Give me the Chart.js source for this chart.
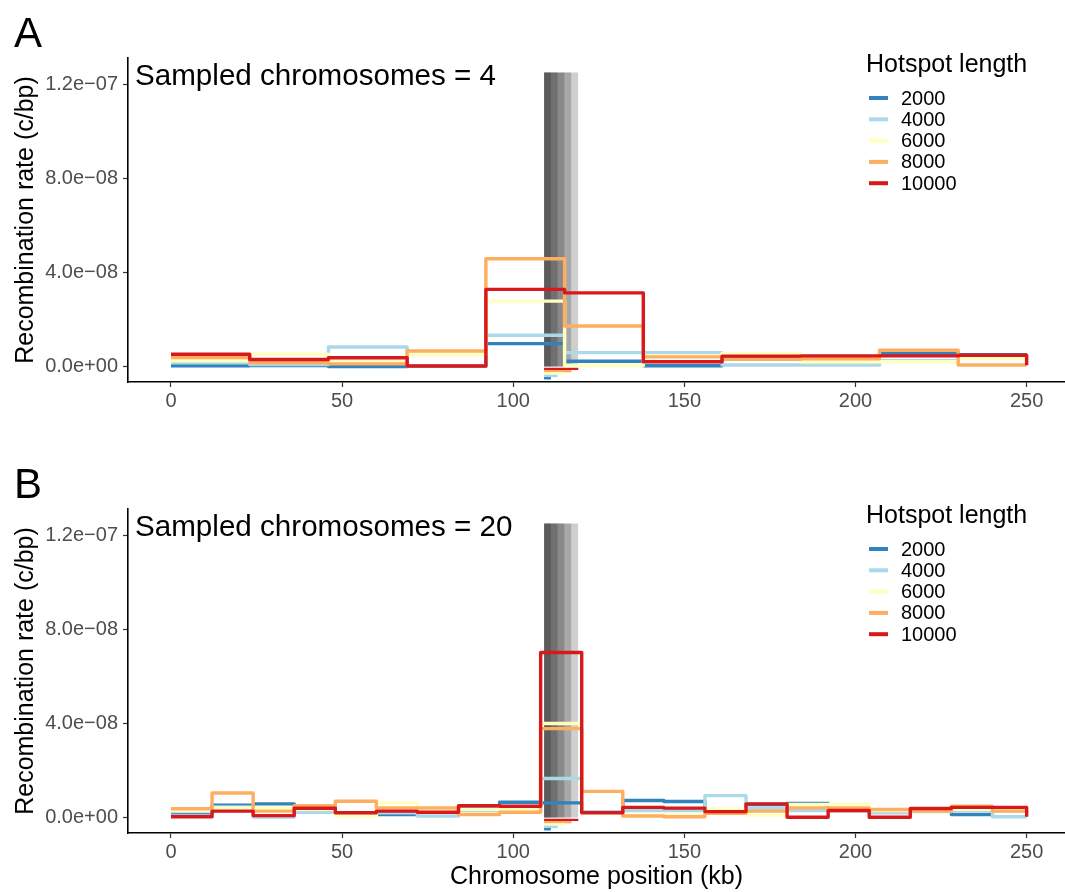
<!DOCTYPE html>
<html>
<head>
<meta charset="utf-8">
<script src="https://cdn.jsdelivr.net/npm/chart.js@4.4.1/dist/chart.umd.min.js"></script>
<style>
  html, body { margin: 0; padding: 0; background: #fff; overflow: hidden; }
  #wrap { position: relative; width: 1065px; height: 892px; }
  canvas { position: absolute; left: 0; }
  #chartA { top: 0; }
  #chartB { top: 451px; }
</style>
</head>
<body>
<div id="wrap">
  <canvas id="chartA" width="1065" height="451"></canvas>
  <canvas id="chartB" width="1065" height="441"></canvas>
</div>
<script>
const hotspotLengths = ['2000', '4000', '6000', '8000', '10000'];
const lineColors = ['#3182bd', '#abd9e9', '#ffffbf', '#fdae61', '#d7191c'];

// rates are in units of 1e-8 c/bp; each list ends with the value at 250 kb
const windowsA = [0, 23, 46, 69, 92, 115, 138, 161, 184, 207, 230, 250];
const rateA2000 = [0.03, 0.04, 0.00, 0.01, 0.97, 0.22, 0.03, 0.38, 0.40, 0.54, 0.50, 0.50];
const rateA4000 = [0.16, 0.08, 0.83, 0.02, 1.33, 0.59, 0.59, 0.06, 0.06, 0.25, 0.45, 0.45];
const rateA6000 = [0.24, 0.52, 0.22, 0.50, 2.78, 0.04, 0.45, 0.55, 0.20, 0.20, 0.35, 0.35];
const rateA8000 = [0.38, 0.16, 0.11, 0.66, 4.58, 1.72, 0.41, 0.31, 0.33, 0.69, 0.06, 0.06];
const rateA10000 = [0.52, 0.30, 0.37, 0.02, 3.28, 3.13, 0.20, 0.44, 0.45, 0.45, 0.48, 0.05];

const windowsB = [0, 12, 24, 36, 48, 60, 72, 84, 96, 108, 120, 132, 144, 156, 168, 180, 192, 204, 216, 228, 240, 250];
const rateB2000 = [0.20, 0.52, 0.58, 0.45, 0.20, 0.13, 0.30, 0.40, 0.65, 0.62, 0.25, 0.72, 0.68, 0.25, 0.55, 0.60, 0.30, 0.25, 0.30, 0.13, 0.30, 0.30];
const rateB4000 = [0.25, 0.45, 0.02, 0.22, 0.15, 0.20, 0.06, 0.31, 0.40, 1.66, 0.25, 0.30, 0.30, 0.93, 0.40, 0.30, 0.35, 0.20, 0.25, 0.30, 0.03, 0.03];
const rateB6000 = [0.30, 0.41, 0.41, 0.35, 0.06, 0.62, 0.35, 0.35, 0.35, 4.00, 0.20, 0.10, 0.10, 0.35, 0.10, 0.55, 0.55, 0.30, 0.30, 0.35, 0.30, 0.30];
const rateB8000 = [0.37, 1.04, 0.27, 0.50, 0.69, 0.41, 0.41, 0.13, 0.22, 3.78, 1.11, 0.06, 0.03, 0.18, 0.27, 0.41, 0.41, 0.34, 0.27, 0.48, 0.27, 0.27];
const rateB10000 = [0.03, 0.27, 0.08, 0.39, 0.20, 0.27, 0.22, 0.50, 0.48, 7.02, 0.20, 0.43, 0.40, 0.25, 0.58, 0.01, 0.30, 0.01, 0.38, 0.43, 0.43, 0.03];

// hotspot: starts at 109 kb, one shaded band per length
const hotspotStart = 109;
const hotspotSizesKb = [2, 4, 6, 8, 10];
const hotspotTop = 12.5;
const rugLevels = [-0.5, -0.4, -0.3, -0.2, -0.1];

const xTicks = [0, 50, 100, 150, 200, 250];
const yTicks = [0, 4, 8, 12];
const yTickLabels = ['0.0e+00', '4.0e\u221208', '8.0e\u221208', '1.2e\u221207'];

const FONT = '"Liberation Sans", Arial, Helvetica, sans-serif';

const panelDecor = {
  id: 'panelDecor',
  afterDraw(chart, args, opts) {
    const ctx = chart.ctx;
    ctx.save();
    ctx.fillStyle = '#000';
    ctx.textAlign = 'left';
    ctx.textBaseline = 'alphabetic';
    ctx.font = '42px ' + FONT;
    ctx.fillText(opts.letter, 14, 47);
    ctx.font = '29.6px ' + FONT;
    ctx.fillText(opts.note, 135, 85);

    // legend
    ctx.font = '25px ' + FONT;
    ctx.fillText('Hotspot length', 866, 72);
    ctx.font = '20px ' + FONT;
    ctx.textBaseline = 'middle';
    hotspotLengths.forEach((lab, i) => {
      const y = 98 + i * 21.3;
      ctx.strokeStyle = lineColors[i];
      ctx.lineWidth = 4;
      ctx.beginPath();
      ctx.moveTo(869, y);
      ctx.lineTo(888, y);
      ctx.stroke();
      ctx.fillStyle = '#000';
      ctx.fillText(lab, 901, y + 1);
    });
    ctx.restore();
  }
};

function toPoints(xs, ys) {
  return xs.map((x, i) => ({ x: x, y: ys[i] }));
}

function buildPanel(canvasId, windows, rates, letter, note, showXTitle, xAxisHeight) {
  const datasets = [];

  // shaded hotspot bands (overlapping, so the left part is darkest)
  hotspotSizesKb.forEach((len) => {
    datasets.push({
      data: [{ x: hotspotStart, y: hotspotTop }, { x: hotspotStart + len, y: hotspotTop }],
      borderColor: 'transparent',
      backgroundColor: 'rgba(0,0,0,0.19)',
      fill: { value: 0 },
      pointRadius: 0,
      order: 20
    });
  });

  // small marks under the axis showing each hotspot's extent
  hotspotSizesKb.forEach((len, i) => {
    datasets.push({
      data: [{ x: hotspotStart, y: rugLevels[i] }, { x: hotspotStart + len, y: rugLevels[i] }],
      borderColor: lineColors[i],
      borderWidth: 2.4,
      borderCapStyle: 'butt',
      pointRadius: 0,
      fill: false,
      order: 15
    });
  });

  rates.forEach((r, i) => {
    datasets.push({
      label: hotspotLengths[i],
      data: toPoints(windows, r),
      stepped: true,
      borderColor: lineColors[i],
      borderWidth: 3.4,
      borderJoinStyle: 'round',
      borderCapStyle: 'butt',
      pointRadius: 0,
      fill: false,
      order: 10 - i
    });
  });

  return new Chart(document.getElementById(canvasId), {
    type: 'line',
    data: { datasets: datasets },
    plugins: [panelDecor],
    options: {
      responsive: false,
      animation: false,
      events: [],
      layout: { padding: { top: 58, left: 0, right: 0, bottom: 0 } },
      plugins: {
        legend: { display: false },
        tooltip: { enabled: false },
        panelDecor: { letter: letter, note: note }
      },
      scales: {
        x: {
          type: 'linear',
          min: -12.56,
          max: 261.2,
          afterBuildTicks: (axis) => { axis.ticks = xTicks.map(v => ({ value: v })); },
          afterFit: (axis) => { axis.height = xAxisHeight; },
          border: { display: true, color: '#000', width: 1.6 },
          grid: { drawOnChartArea: false, drawTicks: true, tickLength: 5, tickColor: '#333', tickWidth: 1.2 },
          ticks: { color: '#4d4d4d', font: { family: FONT, size: 20 }, padding: 2, maxRotation: 0 },
          title: {
            display: showXTitle,
            text: 'Chromosome position (kb)',
            color: '#000',
            font: { family: FONT, size: 25 },
            padding: { top: 0, bottom: 0 }
          }
        },
        y: {
          type: 'linear',
          min: -0.66,
          max: 13.12,
          afterBuildTicks: (axis) => { axis.ticks = yTicks.map(v => ({ value: v })); },
          afterFit: (axis) => { axis.width = 128; },
          border: { display: true, color: '#000', width: 1.6 },
          grid: { drawOnChartArea: false, drawTicks: true, tickLength: 5, tickColor: '#333', tickWidth: 1.2 },
          ticks: {
            color: '#4d4d4d',
            font: { family: FONT, size: 20 },
            padding: 5,
            callback: (value) => yTickLabels[yTicks.indexOf(value)]
          },
          title: {
            display: true,
            text: 'Recombination rate (c/bp)',
            color: '#000',
            font: { family: FONT, size: 25 },
            padding: { top: 11, bottom: 0 }
          }
        }
      }
    }
  });
}

document.addEventListener('DOMContentLoaded', () => {
  buildPanel('chartA', windowsA, [rateA2000, rateA4000, rateA6000, rateA8000, rateA10000],
    'A', 'Sampled chromosomes = 4', false, 69);
  buildPanel('chartB', windowsB, [rateB2000, rateB4000, rateB6000, rateB8000, rateB10000],
    'B', 'Sampled chromosomes = 20', true, 59);
});
</script>
</body>
</html>
